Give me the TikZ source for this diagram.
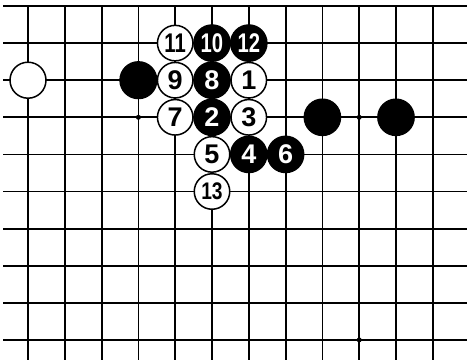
\documentclass[tikz,border=0pt]{standalone}
\usepackage{fontspec}
\newfontfamily\stonefont{Liberation Sans}
\begin{document}
\begin{tikzpicture}[x=1pt,y=-1pt,
  gridline/.style={line width=1.8pt,black},
  numfont/.style={font=\stonefont\bfseries\fontsize{27}{27}\selectfont},
  bstone/.style={circle,fill=black,draw=black,line width=1.2pt,minimum size=36.5pt,inner sep=0pt,text=white,numfont},
  wstone/.style={circle,fill=white,draw=black,line width=1.5pt,minimum size=35.5pt,inner sep=0pt,text=black,numfont},
  starpt/.style={circle,fill=black,inner sep=0pt,minimum size=5pt}]
\useasboundingbox[fill=white] (0,0) rectangle (467,360);
\def\cx#1{28+36.8*#1}
\def\ry#1{6+37.1*#1}
% horizontal lines
\foreach \j in {0,...,9} {
  \draw[gridline] (3,{\ry{\j}}) -- (467,{\ry{\j}});
}
% vertical lines
\foreach \i in {0,...,11} {
  \draw[gridline] ({\cx{\i}},{\ry{0}}) -- ({\cx{\i}},360);
}
% star points
\node[starpt] (s1) at ({\cx{3}},{\ry{3}}) {};
\node[starpt] (s2) at ({\cx{9}},{\ry{3}}) {};
\node[starpt] (s3) at ({\cx{9}},{\ry{9}}) {};
% plain stones
\node[wstone,minimum size=36pt] (w0) at ({\cx{0}},{\ry{2}}) {};
\node[bstone,minimum size=37pt] (b0) at ({\cx{3}},{\ry{2}}) {};
\node[bstone] (b1) at ({\cx{8}},{\ry{3}}) {};
\node[bstone] (b2) at ({\cx{10}},{\ry{3}}) {};
% numbered stones
\node[wstone] (m1) at ({\cx{6}},{\ry{2}}) {1};
\node[bstone] (m2) at ({\cx{5}},{\ry{3}}) {2};
\node[wstone] (m3) at ({\cx{6}},{\ry{3}}) {3};
\node[bstone] (m4) at ({\cx{6}},{\ry{4}}) {4};
\node[wstone] (m5) at ({\cx{5}},{\ry{4}}) {5};
\node[bstone] (m6) at ({\cx{7}},{\ry{4}}) {6};
\node[wstone] (m7) at ({\cx{4}},{\ry{3}}) {7};
\node[bstone] (m8) at ({\cx{5}},{\ry{2}}) {8};
\node[wstone] (m9) at ({\cx{4}},{\ry{2}}) {9};
\node[bstone] (m10) at ({\cx{5}},{\ry{1}}) {\scalebox{0.75}[1]{10}};
\node[wstone] (m11) at ({\cx{4}},{\ry{1}}) {\scalebox{0.75}[1]{11}};
\node[bstone] (m12) at ({\cx{6}},{\ry{1}}) {\scalebox{0.75}[1]{12}};
\node[wstone,font=\stonefont\bfseries\fontsize{24}{24}\selectfont] (m13) at ({\cx{5}},{\ry{5}}) {\scalebox{0.8}[1]{13}};
\end{tikzpicture}
\end{document}
